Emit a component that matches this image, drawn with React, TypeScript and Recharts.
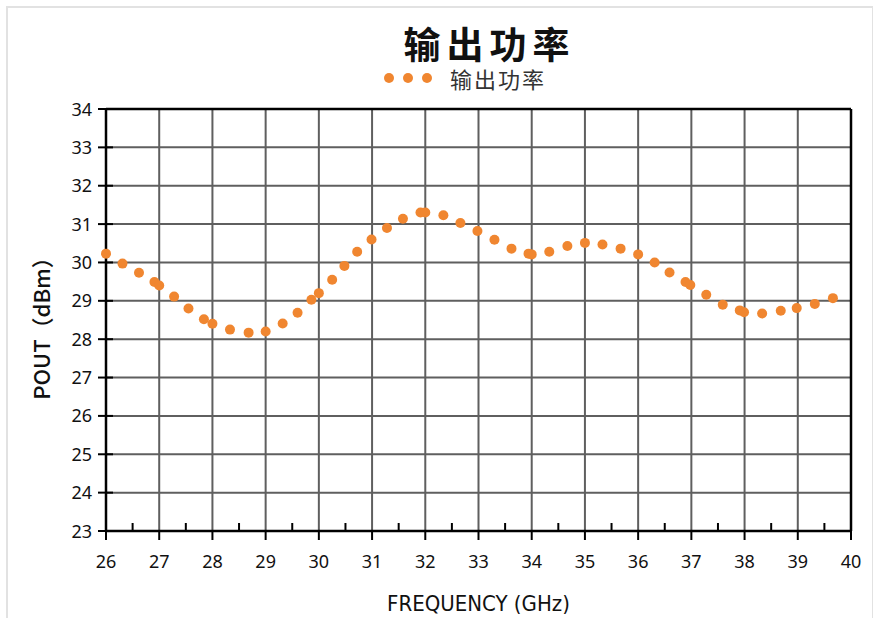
import React from 'react'
import { ScatterChart, Scatter, XAxis, YAxis, CartesianGrid, ReferenceLine } from 'recharts'

// frequency (GHz)
const freq = [
  26.0, 26.31, 26.62, 26.91, 27.0, 27.28, 27.55, 27.84, 28.0, 28.33, 28.68, 29.0,
  29.32, 29.6, 29.86, 30.0, 30.25, 30.48, 30.72, 30.99, 31.28, 31.58, 31.91, 32.0,
  32.34, 32.66, 32.98, 33.3, 33.62, 33.94, 34.0, 34.33, 34.67, 35.0, 35.33, 35.67,
  36.0, 36.31, 36.59, 36.89, 36.98, 37.28, 37.59, 37.91, 37.99, 38.33, 38.68, 38.98,
  39.32, 39.66,
]

// output power (dBm)
const pout = [
  30.23, 29.97, 29.73, 29.49, 29.4, 29.11, 28.8, 28.52, 28.4, 28.25, 28.17, 28.2,
  28.41, 28.69, 29.03, 29.2, 29.55, 29.91, 30.28, 30.6, 30.9, 31.14, 31.3, 31.3,
  31.23, 31.03, 30.82, 30.59, 30.36, 30.23, 30.21, 30.28, 30.43, 30.51, 30.47, 30.36,
  30.21, 30.0, 29.74, 29.49, 29.41, 29.16, 28.9, 28.75, 28.7, 28.67, 28.74, 28.81,
  28.92, 29.07,
]

const xTicks = [26, 26.5, 27, 27.5, 28, 28.5, 29, 29.5, 30, 30.5, 31, 31.5, 32, 32.5, 33, 33.5,
  34, 34.5, 35, 35.5, 36, 36.5, 37, 37.5, 38, 38.5, 39, 39.5, 40]
const yTicks = [23, 24, 25, 26, 27, 28, 29, 30, 31, 32, 33, 34]

const seriesName = '输出功率'
const orange = '#F08630'
const tickFont = '"Noto Sans", sans-serif'

const data = freq.map((f, i) => ({ f, p: pout[i] }))

function XTick(props: any) {
  const { x, y, payload } = props
  const axisY = y - 12
  const v = payload.value
  if (!Number.isInteger(v)) {
    return <line x1={x} x2={x} y1={axisY - 8} y2={axisY} stroke="#000" strokeWidth={2} />
  }
  return (
    <g>
      <line x1={x} x2={x} y1={axisY} y2={axisY + 9} stroke="#000" strokeWidth={2} />
      <text x={x} y={axisY + 37} textAnchor="middle" fontSize={18} fontFamily={tickFont} fill="#111">
        {v}
      </text>
    </g>
  )
}

function YTick(props: any) {
  const { x, y, payload } = props
  const axisX = x + 12
  return (
    <g>
      <line x1={axisX - 8} x2={axisX + 7} y1={y} y2={y} stroke="#000" strokeWidth={2} />
      <text x={axisX - 14} y={y + 6.5} textAnchor="end" fontSize={18} fontFamily={tickFont} fill="#111">
        {payload.value}
      </text>
    </g>
  )
}

const dot = (props: any) => <circle cx={props.cx} cy={props.cy} r={5} fill={orange} />

export default function App() {
  return (
    <div style={{ position: 'absolute', left: 0, top: 0, width: 873, height: 618, background: '#fff' }}>
      <div
        style={{
          position: 'absolute', left: 6, top: 6, width: 864, height: 640,
          borderTop: '2px solid #e2e2e2', borderLeft: '2px solid #e2e2e2', borderRight: '2px solid #e2e2e2',
        }}
      />
      <div
        style={{
          position: 'absolute', left: 0, width: 873, top: 24, textAlign: 'center', paddingLeft: 106,
          boxSizing: 'border-box', fontFamily: '"Noto Sans CJK SC", sans-serif', fontWeight: 700,
          fontSize: 37, letterSpacing: 6, lineHeight: '38px', color: '#111',
        }}
      >
        {seriesName}
      </div>
      <div style={{ position: 'absolute', left: 383, top: 66, height: 24, display: 'flex', alignItems: 'center' }}>
        <svg width={52} height={12}>
          <circle cx={6} cy={6} r={5} fill={orange} />
          <circle cx={25} cy={6} r={5} fill={orange} />
          <circle cx={44} cy={6} r={5} fill={orange} />
        </svg>
        <span
          style={{
            marginLeft: 15, fontFamily: '"Noto Sans CJK SC", sans-serif', fontSize: 22, lineHeight: '24px',
            letterSpacing: 2, color: '#333',
          }}
        >
          {seriesName}
        </span>
      </div>
      <ScatterChart width={873} height={618} margin={{ top: 109, right: 22, bottom: 0, left: 0 }}>
        <CartesianGrid stroke="#5f5f5f" strokeWidth={2} horizontalValues={yTicks} verticalValues={xTicks.filter((t) => Number.isInteger(t))} />
        <XAxis
          type="number"
          dataKey="f"
          domain={[26, 40]}
          ticks={xTicks}
          interval={0}
          height={87}
          tickSize={8}
          tickMargin={4}
          tickLine={false}
          tick={<XTick />}
          axisLine={{ stroke: '#000', strokeWidth: 2.5 }}
          label={{
            value: 'FREQUENCY (GHz)', position: 'insideBottom', offset: 7,
            style: { fontFamily: '"DejaVu Sans Condensed", sans-serif', fontStretch: 'condensed', fontSize: 22, fill: '#111' },
          }}
        />
        <YAxis
          type="number"
          dataKey="p"
          domain={[23, 34]}
          ticks={yTicks}
          interval={0}
          width={106}
          tickSize={8}
          tickMargin={4}
          tickLine={false}
          tick={<YTick />}
          axisLine={{ stroke: '#000', strokeWidth: 2.5 }}
          label={{
            content: () => (
              <text
                x={40}
                y={323}
                transform="rotate(-90 40 323)"
                textAnchor="middle"
                dominantBaseline="central"
                fontFamily='"Noto Sans CJK SC", sans-serif'
                fontWeight={500}
                fontSize={22}
                fill="#111"
              >
                POUT（dBm）
              </text>
            ),
          }}
        />
        <ReferenceLine y={34} stroke="#000" strokeWidth={2.5} />
        <ReferenceLine x={40} stroke="#000" strokeWidth={2.5} />
        <Scatter data={data} name={seriesName} shape={dot} isAnimationActive={false} />
      </ScatterChart>
    </div>
  )
}
